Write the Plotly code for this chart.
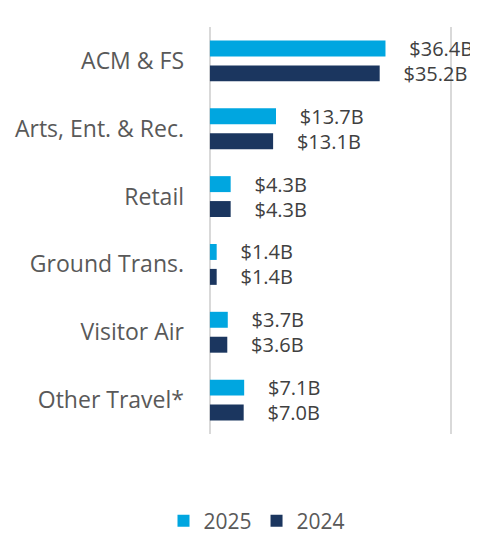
import plotly.graph_objects as go

categories = ["ACM & FS", "Arts, Ent. & Rec.", "Retail", "Ground Trans.", "Visitor Air", "Other Travel*"]
values_2025 = [36.4, 13.7, 4.3, 1.4, 3.7, 7.1]
values_2024 = [35.2, 13.1, 4.3, 1.4, 3.6, 7.0]
series_names = ["2025", "2024"]
series_colors = ["#00A6E0", "#1B365F"]

PAD = "\u00a0" * 4

def labels(vals):
    return [f"{PAD}${v:.1f}B" for v in vals]

fig = go.Figure()
for name, vals, color in zip(series_names, [values_2025, values_2024], series_colors):
    fig.add_trace(go.Bar(
        y=categories, x=vals, name=name, orientation="h",
        marker=dict(color=color, line=dict(width=0)),
        text=labels(vals), textposition="outside", constraintext="none",
        cliponaxis=False,
        textfont=dict(family="Open Sans", size=20, color="#404040"),
        hoverinfo="skip",
    ))

fig.update_layout(
    width=470, height=527,
    margin=dict(l=200, r=25, t=19, b=101, autoexpand=False),
    barmode="group", bargap=0.265, bargroupgap=0.36,
    plot_bgcolor="white", paper_bgcolor="white",
    font=dict(family="Open Sans", color="#595959"),
    showlegend=True,
    legend=dict(orientation="h", x=0.2, xanchor="center",
                y=-0.214, yanchor="middle",
                font=dict(size=21, color="#595959"), traceorder="normal"),
    xaxis=dict(range=[-0.4, 50.4], tickmode="array", tickvals=[0, 50],
               showticklabels=False,
               showgrid=True, gridcolor="#D9D9D9", gridwidth=2,
               zeroline=False, showline=False, fixedrange=True, automargin=False),
    yaxis=dict(autorange="reversed", showgrid=False, showline=False,
               ticks="", ticklabelstandoff=23, automargin=False,
               tickfont=dict(size=23, color="#595959")),
)

fig.write_html("out.html")
